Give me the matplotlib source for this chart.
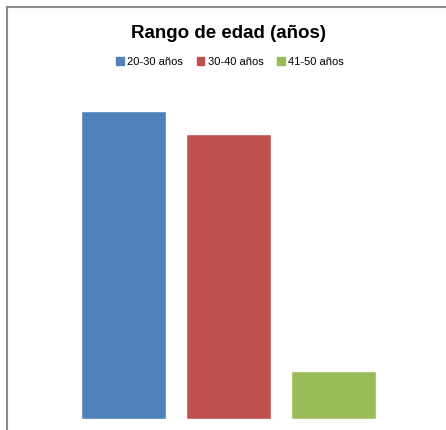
import matplotlib
matplotlib.use("Agg")
import matplotlib.pyplot as plt
from matplotlib.lines import Line2D

series = ["20-30 años", "30-40 años", "41-50 años"]
values = [13, 12, 2]
colors = ["#4f81bd", "#c0504d", "#9bbb59"]
title = "Rango de edad (años)"

W, H = 446, 430
fig = plt.figure(figsize=(W / 100, H / 100), dpi=100)
plt.rcParams['font.family'] = ['Liberation Sans', 'DejaVu Sans']

# chart frame (only top and left edges are visible in the crop)
fig.add_artist(Line2D([6.5 / W, 6.5 / W], [0, 1 - 6.5 / H], color="#8c8c8c", lw=1.5))
fig.add_artist(Line2D([6.5 / W, 1], [1 - 6.5 / H, 1 - 6.5 / H], color="#8c8c8c", lw=1.5))

ax = fig.add_axes([82 / W, 11 / H, 294 / W, 331 / H])
ax.bar(range(len(values)), values, width=0.8, color=colors,
       edgecolor="white", linewidth=0.3)
ax.set_xlim(-0.4, 2.4)
ax.set_ylim(0, 14)
ax.axis("off")

fig.text(228 / W, 1 - 33 / H, title, ha="center", va="center",
         fontsize=13.5, fontweight="bold")

handles = [plt.Rectangle((0, 0), 1, 1, color=c) for c in colors]
fig.legend(handles, series, loc="center", bbox_to_anchor=(230 / W, 1 - 62 / H),
           ncol=3, frameon=False, fontsize=8, handlelength=0.7, handleheight=0.7,
           handletextpad=0.3, columnspacing=1.25)

fig.savefig("out.png", dpi=100)
